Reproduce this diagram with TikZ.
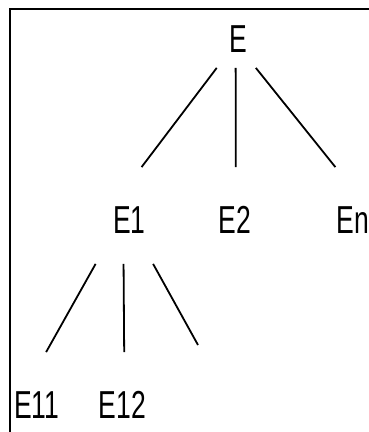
\documentclass[tikz,border=0pt]{standalone}
\usepackage{fontspec}
\setmainfont{Liberation Sans}
\usepackage{graphicx}
\usepackage{tikz}
\usetikzlibrary{positioning, calc}
\newcommand{\slim}[1]{\scalebox{0.68}[1]{#1}}

\begin{document}
\begin{tikzpicture}[x=1pt, y=1pt, line width=1.8pt]
        \tikzstyle{tree_node} = [rectangle, inner sep=0pt, anchor=base, minimum width=80pt, text height=65pt, text depth=30pt, font=\fontsize{39}{39}\selectfont]
        \tikzstyle{branch} = [draw=black]
        \tikzstyle{frame_line} = [draw=black]

        \useasboundingbox (0,0) rectangle (369,-432);

        % Frame (only top and left edges in view)
        \draw [frame_line] (10,-432) -- (10,-9) -- (369,-9);

        % Root
        \node (e) [tree_node, text depth=15pt] at (238.5,-52) {\slim{E}};

        % First level
        \node (e1) [tree_node] at (129.5,-233) {\slim{E1}};
        \node (e2) [tree_node] at (235,-233) {\slim{E2}};
        \node (en) [tree_node] at (353,-233) {\slim{En}};

        % Second level under E1
        \node (e11) [tree_node] at (36.7,-418) {\slim{E11}};
        \node (e12) [tree_node] at (122.5,-418) {\slim{E12}};
        \coordinate (e1x) at (198,-345);

        % Branches from E
        \draw [branch] (e.242) -- (e1.76);
        \draw [branch] (e.266.5) -- (e2.89);
        \draw [branch] (e.293) -- (en.110);

        % Branches from E1
        \draw [branch] (e1.235) -- (e11.79);
        \draw [branch] (e1.263) -- (e12.88.4);
        \draw [branch] (e1.296.5) -- (e1x);
\end{tikzpicture}
\end{document}
